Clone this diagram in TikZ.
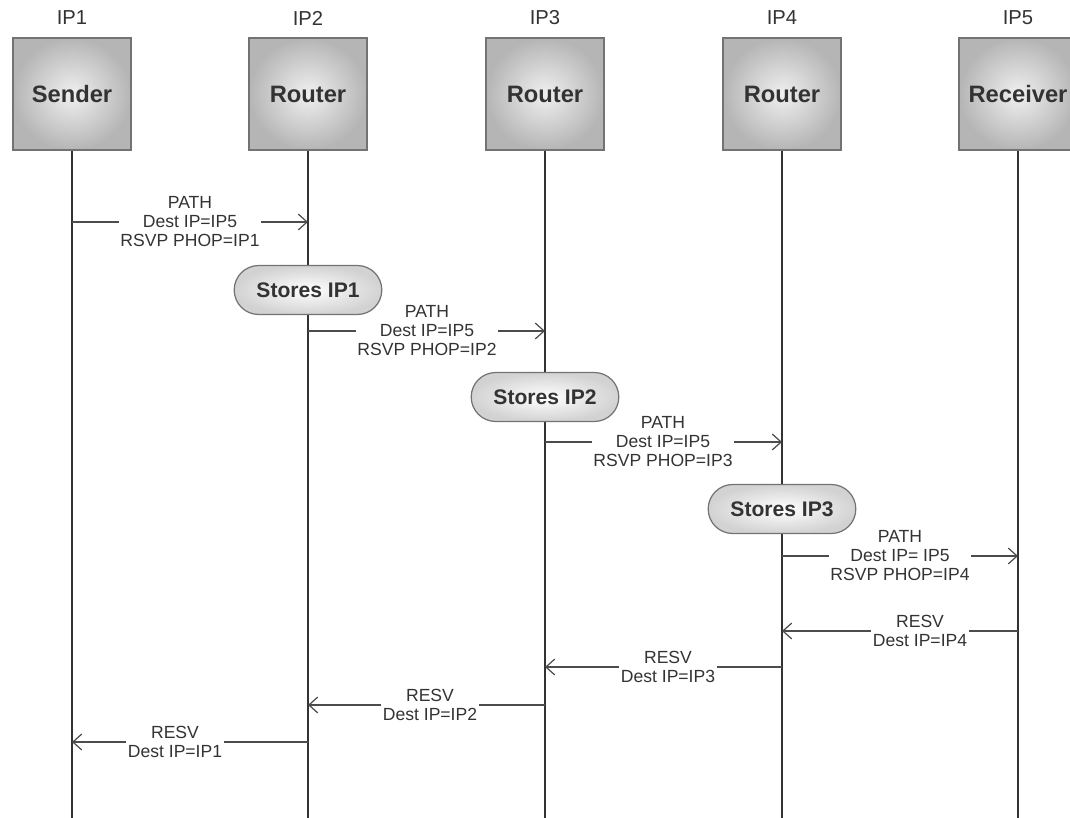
\documentclass[tikz,border=0pt]{standalone}
\usepackage{fontspec}
\setmainfont{Liberation Sans}
\usetikzlibrary{arrows.meta,shapes.misc}
\tikzset{
  hostbox/.style={draw=black!55, line width=0.8pt, minimum width=2.36cm, minimum height=2.24cm,
    inner color=gray!12, outer color=gray!58, text=black!80,
    font=\fontsize{13.5}{15}\selectfont\bfseries},
  iplabel/.style={text=black!80, font=\fontsize{11.5}{13}\selectfont},
  storebox/.style={rounded rectangle, draw=black!55, line width=0.7pt, minimum width=2.9cm,
    minimum height=0.98cm, inner xsep=12pt, inner color=white, outer color=gray!35, text=black!80,
    font=\fontsize{12}{14}\selectfont\bfseries},
  msg/.style={fill=white, align=center, inner sep=1pt, text=black!80,
    font=\fontsize{10}{10.8}\selectfont},
  lifeline/.style={black!80, line width=1pt},
  sig/.style={black!70, line width=0.7pt, -{Straight Barb[length=5pt,width=9pt]}}
}
\begin{document}
\begin{tikzpicture}[x=0.02cm, y=-0.02cm]
  \clip (0,0) rectangle (1070,817);

  % Hosts
  \node[hostbox] (h1) at (72,94) {Sender};
  \node[hostbox] (h2) at (308,94) {Router};
  \node[hostbox] (h3) at (545,94) {Router};
  \node[hostbox] (h4) at (782,94) {Router};
  \node[hostbox] (h5) at (1018,94) {Receiver};

  \node[iplabel] (ip1) at (72,18) {IP1};
  \node[iplabel] (ip2) at (308,18) {IP2};
  \node[iplabel] (ip3) at (545,18) {IP3};
  \node[iplabel] (ip4) at (782,18) {IP4};
  \node[iplabel] (ip5) at (1018,18) {IP5};

  % Lifelines
  \draw[lifeline] (h1.south) -- ++(0,667);
  \draw[lifeline] (h2.south) -- ++(0,667);
  \draw[lifeline] (h3.south) -- ++(0,667);
  \draw[lifeline] (h4.south) -- ++(0,667);
  \draw[lifeline] (h5.south) -- ++(0,667);

  % PATH messages
  \coordinate (m1) at (190,222);
  \draw[sig] (h1 |- m1) -- (h2 |- m1);
  \node[msg] (l1) at (m1) {PATH\\Dest IP=IP5\\RSVP PHOP=IP1};

  \coordinate (m2) at (427,331);
  \draw[sig] (h2 |- m2) -- (h3 |- m2);
  \node[msg] (l2) at (m2) {PATH\\Dest IP=IP5\\RSVP PHOP=IP2};

  \coordinate (m3) at (663,442);
  \draw[sig] (h3 |- m3) -- (h4 |- m3);
  \node[msg] (l3) at (m3) {PATH\\Dest IP=IP5\\RSVP PHOP=IP3};

  \coordinate (m4) at (900,556);
  \draw[sig] (h4 |- m4) -- (h5 |- m4);
  \node[msg] (l4) at (m4) {PATH\\Dest IP= IP5\\RSVP PHOP=IP4};

  % Stored hops
  \node[storebox] (s1) at (308,290) {Stores IP1};
  \node[storebox] (s2) at (545,397) {Stores IP2};
  \node[storebox] (s3) at (782,509) {Stores IP3};

  % RESV messages
  \coordinate (r4) at (920,631);
  \draw[sig] (h5 |- r4) -- (h4 |- r4);
  \node[msg] (k4) at (r4) {RESV\\Dest IP=IP4};

  \coordinate (r3) at (668,667);
  \draw[sig] (h4 |- r3) -- (h3 |- r3);
  \node[msg] (k3) at (r3) {RESV\\Dest IP=IP3};

  \coordinate (r2) at (430,705);
  \draw[sig] (h3 |- r2) -- (h2 |- r2);
  \node[msg] (k2) at (r2) {RESV\\Dest IP=IP2};

  \coordinate (r1) at (175,742);
  \draw[sig] (h2 |- r1) -- (h1 |- r1);
  \node[msg] (k1) at (r1) {RESV\\Dest IP=IP1};
\end{tikzpicture}
\end{document}
